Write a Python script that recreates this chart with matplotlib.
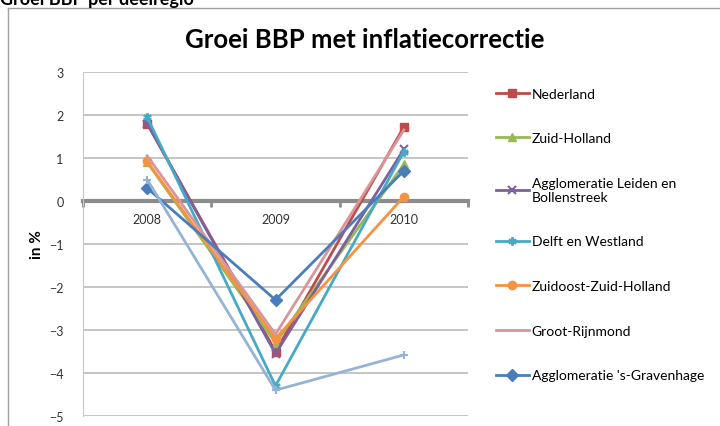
import matplotlib
matplotlib.use("Agg")
import matplotlib.pyplot as plt
from matplotlib.lines import Line2D
import numpy as np

plt.rcParams['font.family'] = ['Lato', 'DejaVu Sans']

years = ["2008", "2009", "2010"]
nederland = [1.8, -3.5, 1.72]
zuid_holland = [0.9, -3.3, 0.85]
leiden = [1.8, -3.55, 1.2]
delft = [1.95, -4.3, 1.15]
zuidoost = [0.92, -3.2, 0.1]
groot_rijnmond = [1.05, -3.1, 1.65]
gravenhage = [0.3, -2.3, 0.7]
overig = [0.5, -4.4, -3.58]

series = [
    ("Nederland", nederland, "#BE4B48", "s"),
    ("Zuid-Holland", zuid_holland, "#98B954", "^"),
    ("Agglomeratie Leiden en\nBollenstreek", leiden, "#7D60A0", "x"),
    ("Delft en Westland", delft, "#46AAC5", (6, 2, 0)),
    ("Zuidoost-Zuid-Holland", zuidoost, "#F69240", "o"),
    ("Groot-Rijnmond", groot_rijnmond, "#D9959A", None),
    ("Agglomeratie 's-Gravenhage", gravenhage, "#4A7EBB", "D"),
    (None, overig, "#95B3D7", "+"),
]

fig = plt.figure(figsize=(7.2, 4.27), dpi=100)
ax = fig.add_axes([83 / 720, 10 / 427, 385 / 720, 344 / 427])

x = np.arange(len(years))
handles = []
for label, vals, color, marker in series:
    ms = 6
    mew = 1.5 if marker in ("x", "+", (6, 2, 0)) else 1
    ax.plot(x, vals, color=color, lw=2, marker=marker, ms=ms, mew=mew,
            mfc=color, mec=color, zorder=3)
    if label:
        handles.append(Line2D([], [], color=color, lw=2, marker=marker, ms=ms,
                              mew=mew, mfc=color, mec=color, label=label))

ax.set_xlim(-0.5, 2.5)
ax.set_ylim(-5, 3)
ax.set_yticks(range(-5, 4))
ax.grid(axis="y", color="#C0C0C0", lw=1.3)
ax.set_axisbelow(True)
ax.tick_params(axis="y", length=0, pad=14, labelsize=9, labelcolor="#333333")

ax.spines["bottom"].set_position(("data", 0))
ax.spines["bottom"].set_color("#8C8C8C")
ax.spines["bottom"].set_linewidth(3)
ax.spines["bottom"].set_zorder(2)
ax.spines["top"].set_visible(False)
ax.spines["right"].set_visible(False)
ax.spines["left"].set_color("#C8C8C8")
ax.set_xticks([-0.5, 0.5, 1.5, 2.5])
ax.set_xticklabels([])
ax.tick_params(axis="x", which="major", length=4, width=2, color="#8C8C8C", direction="out")
ax.set_xticks(x, minor=True)
ax.set_xticklabels(years, minor=True)
ax.tick_params(axis="x", which="minor", length=0, pad=9, labelsize=9, labelcolor="#333333")

fig.text(37 / 720, 1 - 245 / 427, "in %", rotation=90, ha="center", va="center",
         fontsize=11, fontweight="bold")
fig.text(365 / 720, 1 - 40 / 427, "Groei BBP met inflatiecorrectie", ha="center",
         va="center", fontsize=18.5, fontweight="bold")
fig.text(0, 1 - 5 / 427, "Groei BBP per deelregio", ha="left", va="baseline",
         fontsize=13, fontweight="bold")

# chart frame
fig.add_artist(Line2D([8 / 720, 8 / 720], [0, 1 - 9 / 427], color="#A0A0A0", lw=1,
                      transform=fig.transFigure))
fig.add_artist(Line2D([8 / 720, 1], [1 - 9 / 427, 1 - 9 / 427], color="#A0A0A0", lw=1,
                      transform=fig.transFigure))

fig.legend(handles=handles, loc="upper left", bbox_to_anchor=(490 / 720, 1 - 83 / 427),
           frameon=False, fontsize=10, labelspacing=2.35, handlelength=2.4,
           handletextpad=0.2, borderaxespad=0)

fig.savefig("out.png", dpi=100)
